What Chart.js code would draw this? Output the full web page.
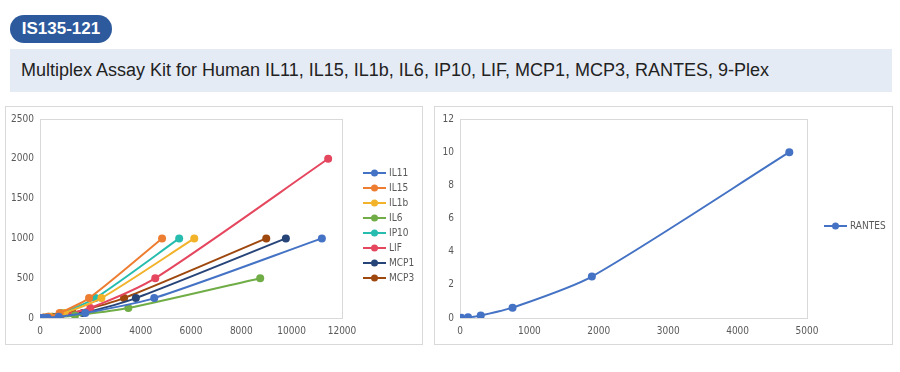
<!DOCTYPE html>
<html lang="en">
<head>
    <meta charset="UTF-8">
    <title>IS135-121</title>
    <script src="https://cdn.jsdelivr.net/npm/chart.js"></script>
    <style>
        body { margin: 0; width: 900px; height: 372px; background: #fff; position: relative; overflow: hidden; font-family: "Liberation Sans", Arial, sans-serif; }
        .badge { position: absolute; left: 10px; top: 15px; width: 102px; height: 28px; border-radius: 14px; background: #2c5a9c; color: #fff; font-weight: bold; font-size: 17px; line-height: 28px; text-align: center; }
        .band { position: absolute; left: 10px; top: 49px; width: 882px; height: 43px; background: #e5ebf5; }
        .band span { position: absolute; left: 11px; top: 11px; font-size: 18px; color: #222; white-space: nowrap; }
        .box { position: absolute; border: 1px solid #d9d9d9; }
        .box canvas { display: block; }
    </style>
</head>
<body>
<div class="badge">IS135-121</div>
<div class="band"><span>Multiplex Assay Kit for Human IL11, IL15, IL1b, IL6, IP10, LIF, MCP1, MCP3, RANTES, 9-Plex</span></div>

<div class="box" style="left:5px; top:106px; width:416px; height:237px;">
    <canvas id="leftChart" width="416" height="237"></canvas>
</div>
<div class="box" style="left:434px; top:106px; width:457px; height:237px;">
    <canvas id="rightChart" width="457" height="237"></canvas>
</div>

<script>
    // standard curves, 4-fold dilutions (concentration on y, signal on x)
    const leftLabels = ['IL11', 'IL15', 'IL1b', 'IL6', 'IP10', 'LIF', 'MCP1', 'MCP3'];
    const leftColors = ['#4472C4', '#ED7D31', '#F2B22A', '#70AD47', '#26BDAF', '#E5475F', '#264478', '#9E480E'];

    const il11X = [50, 122, 300, 745, 1800, 4540, 11200];
    const il11Y = [0.24, 0.98, 3.9, 15.6, 62.5, 250, 1000];
    const il15X = [20, 50, 126, 315, 780, 1950, 4850];
    const il15Y = [0.24, 0.98, 3.9, 15.6, 62.5, 250, 1000];
    const il1bX = [25, 62, 155, 390, 970, 2440, 6130];
    const il1bY = [0.24, 0.98, 3.9, 15.6, 62.5, 250, 1000];
    const il6X = [35, 88, 220, 550, 1390, 3510, 8750];
    const il6Y = [0.12, 0.49, 1.95, 7.8, 31.25, 125, 500];
    const ip10X = [22, 56, 140, 350, 880, 2200, 5530];
    const ip10Y = [0.24, 0.98, 3.9, 15.6, 62.5, 250, 1000];
    const lifX = [55, 130, 330, 820, 2000, 4580, 11450];
    const lifY = [0.49, 1.95, 7.8, 31.25, 125, 500, 2000];
    const mcp1X = [35, 90, 225, 640, 1700, 3810, 9770];
    const mcp1Y = [0.24, 0.98, 3.9, 15.6, 62.5, 250, 1000];
    const mcp3X = [25, 65, 175, 490, 1300, 3340, 8990];
    const mcp3Y = [0.24, 0.98, 3.9, 15.6, 62.5, 250, 1000];

    const leftXs = [il11X, il15X, il1bX, il6X, ip10X, lifX, mcp1X, mcp3X];
    const leftYs = [il11Y, il15Y, il1bY, il6Y, ip10Y, lifY, mcp1Y, mcp3Y];

    const rantesX = [20, 116, 299, 757, 1900, 4745];
    const rantesY = [0.0098, 0.039, 0.156, 0.625, 2.5, 10];
    const rantesColor = '#4472C4';

    const tickFont = { family: '"Liberation Sans Narrow", "DejaVu Sans Condensed", sans-serif', size: 10 };
    const tickColor = '#595959';

    function toPoints(xs, ys) {
        return xs.map((x, i) => ({ x: x, y: ys[i] }));
    }

    // plot area frame like Excel
    const frame = {
        id: 'frame',
        beforeDatasetsDraw(chart) {
            const a = chart.chartArea, ctx = chart.ctx;
            ctx.save();
            ctx.strokeStyle = '#d9d9d9';
            ctx.lineWidth = 1;
            ctx.strokeRect(Math.round(a.left) + 0.5, Math.round(a.top) + 0.5, Math.round(a.right - a.left), Math.round(a.bottom - a.top));
            ctx.restore();
        }
    };

    // legend with line + marker, placed where Excel puts it
    const sideLegend = {
        id: 'sideLegend',
        afterDraw(chart, args, opts) {
            const ctx = chart.ctx;
            chart.data.datasets.forEach((ds, i) => {
                const y = opts.y + i * opts.step;
                ctx.save();
                ctx.strokeStyle = ds.borderColor;
                ctx.lineWidth = 2;
                ctx.beginPath();
                ctx.moveTo(opts.x, y);
                ctx.lineTo(opts.x + 23, y);
                ctx.stroke();
                ctx.fillStyle = ds.borderColor;
                ctx.beginPath();
                ctx.arc(opts.x + 11.5, y, 3.5, 0, Math.PI * 2);
                ctx.fill();
                ctx.fillStyle = tickColor;
                ctx.font = tickFont.size + 'px ' + tickFont.family;
                ctx.textBaseline = 'middle';
                ctx.fillText(ds.label, opts.x + 26, y);
                ctx.restore();
            });
        }
    };

    function axes(xMax, xStep, yMax, yStep, yWidth) {
        return {
            x: {
                type: 'linear', min: 0, max: xMax,
                grid: { display: false, drawTicks: false },
                border: { display: false },
                ticks: { stepSize: xStep, color: tickColor, font: tickFont, padding: 7, maxRotation: 0, callback: v => String(v) },
                afterFit(s) { s.height = 26; }
            },
            y: {
                type: 'linear', min: 0, max: yMax,
                grid: { display: false, drawTicks: false },
                border: { display: false },
                ticks: { stepSize: yStep, color: tickColor, font: tickFont, padding: 6, callback: v => String(v) },
                afterFit(s) { s.width = yWidth; }
            }
        };
    }

    new Chart(document.getElementById('leftChart'), {
        type: 'scatter',
        data: {
            datasets: leftLabels.map((name, i) => ({
                label: name,
                data: toPoints(leftXs[i], leftYs[i]),
                showLine: true,
                tension: 0.25,
                borderColor: leftColors[i],
                backgroundColor: leftColors[i],
                borderWidth: 2,
                pointRadius: 4,
                pointBorderWidth: 0
            }))
        },
        options: {
            responsive: false,
            animation: false,
            layout: { padding: { top: 12, right: 80, left: 0, bottom: 0 } },
            scales: axes(12000, 2000, 2500, 500, 34),
            plugins: {
                legend: { display: false },
                tooltip: { enabled: false },
                sideLegend: { x: 357, y: 66, step: 15 }
            }
        },
        plugins: [frame, sideLegend]
    });

    new Chart(document.getElementById('rightChart'), {
        type: 'scatter',
        data: {
            datasets: [{
                label: 'RANTES',
                data: toPoints(rantesX, rantesY),
                showLine: true,
                tension: 0.25,
                borderColor: rantesColor,
                backgroundColor: rantesColor,
                borderWidth: 2,
                pointRadius: 4,
                pointBorderWidth: 0
            }]
        },
        options: {
            responsive: false,
            animation: false,
            layout: { padding: { top: 11, right: 85, left: 0, bottom: 0 } },
            scales: axes(5000, 1000, 12, 2, 25),
            plugins: {
                legend: { display: false },
                tooltip: { enabled: false },
                sideLegend: { x: 389, y: 119, step: 15 }
            }
        },
        plugins: [frame, sideLegend]
    });
</script>
</body>
</html>
